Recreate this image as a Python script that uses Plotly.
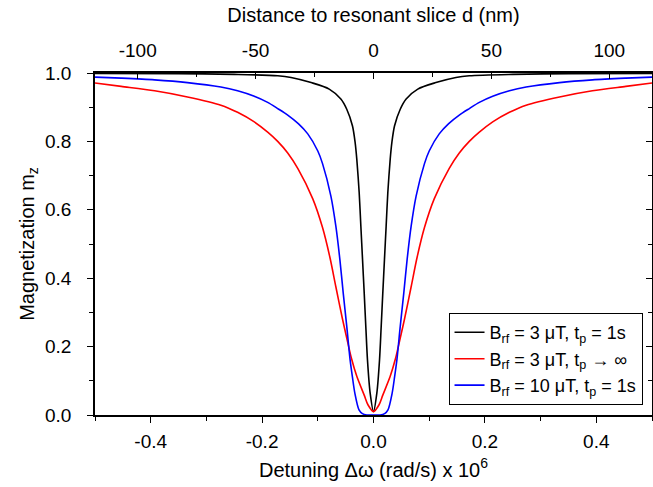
import plotly.graph_objects as go

# Detuning (x 10^6 rad/s) and magnetization values
x_black = [-0.5, -0.35, -0.25, -0.172, -0.148, -0.112, -0.0795, -0.0586, -0.048, -0.0377, -0.033, -0.030,
           -0.0257, -0.0227, -0.0197, -0.0167, -0.0138, -0.0108, -0.006, 0.0,
           0.006, 0.0108, 0.0138, 0.0167, 0.0197, 0.0227, 0.0257, 0.030, 0.033, 0.0377,
           0.048, 0.0586, 0.0795, 0.112, 0.148, 0.172, 0.25, 0.35, 0.5]
y_black = [0.999, 0.998, 0.996, 0.992, 0.987, 0.972, 0.953, 0.924, 0.894, 0.845, 0.797, 0.748,
           0.650, 0.552, 0.455, 0.357, 0.259, 0.161, 0.064, 0.01,
           0.064, 0.161, 0.259, 0.357, 0.455, 0.552, 0.650, 0.748, 0.797, 0.845,
           0.894, 0.924, 0.953, 0.972, 0.987, 0.992, 0.996, 0.998, 0.999]

x_red = [-0.5, -0.453, -0.393, -0.334, -0.274, -0.244, -0.214, -0.19, -0.172, -0.154, -0.136, -0.109,
         -0.0915, -0.0784, -0.0676, -0.0556, -0.048, -0.0395, -0.030, -0.0167, -0.01, 0.0,
         0.01, 0.0167, 0.030, 0.0395, 0.048, 0.0556, 0.0676, 0.0784, 0.0915, 0.109, 0.136,
         0.154, 0.172, 0.19, 0.214, 0.244, 0.274, 0.334, 0.393, 0.453, 0.5]
y_red = [0.971, 0.961, 0.948, 0.930, 0.906, 0.885, 0.857, 0.827, 0.800, 0.766, 0.721, 0.632,
         0.548, 0.462, 0.375, 0.280, 0.225, 0.165, 0.113, 0.058, 0.03, 0.01,
         0.03, 0.058, 0.113, 0.165, 0.225, 0.280, 0.375, 0.462, 0.548, 0.632, 0.721,
         0.766, 0.800, 0.827, 0.857, 0.885, 0.906, 0.930, 0.948, 0.961, 0.971]

x_blue = [-0.5, -0.453, -0.393, -0.334, -0.274, -0.244, -0.214, -0.19, -0.172, -0.154, -0.135, -0.118,
          -0.1, -0.0915, -0.0765, -0.0676, -0.0604, -0.0544, -0.048, -0.042, -0.038, -0.0335,
          -0.026, -0.02, -0.012, 0.0,
          0.012, 0.02, 0.026, 0.0335, 0.038, 0.042, 0.048, 0.0544, 0.0604, 0.0676, 0.0765,
          0.0915, 0.1, 0.118, 0.135, 0.154, 0.172, 0.19, 0.214, 0.244, 0.274, 0.334, 0.393, 0.453, 0.5]
y_blue = [0.988, 0.985, 0.980, 0.972, 0.959, 0.948, 0.932, 0.914, 0.896, 0.877, 0.852, 0.822,
          0.772, 0.735, 0.640, 0.552, 0.455, 0.357, 0.259, 0.161, 0.113, 0.064,
          0.015, 0.004, 0.0, 0.0,
          0.0, 0.004, 0.015, 0.064, 0.113, 0.161, 0.259, 0.357, 0.455, 0.552, 0.640,
          0.735, 0.772, 0.822, 0.852, 0.877, 0.896, 0.914, 0.932, 0.948, 0.959, 0.972, 0.980, 0.985, 0.988]

names = ["B<sub>rf</sub> = 3 μT, t<sub>p</sub> = 1s",
         "B<sub>rf</sub> = 3 μT, t<sub>p</sub> → ∞",
         "B<sub>rf</sub> = 10 μT, t<sub>p</sub> = 1s"]
colors = ["#000000", "#ff0000", "#0000ff"]

# tick labels (hyphen minus as in the reference)
x_tickvals = [-0.4, -0.2, 0.0, 0.2, 0.4]
x_ticktext = ["-0.4", "-0.2", "0.0", "0.2", "0.4"]
d_tickvals = [-100, -50, 0, 50, 100]
d_ticktext = ["-100", "-50", "0", "50", "100"]
y_tickvals = [0.0, 0.2, 0.4, 0.6, 0.8, 1.0]
y_ticktext = ["0.0", "0.2", "0.4", "0.6", "0.8", "1.0"]

x_range = [-0.5, 0.5]
d_range = [-118.1, 118.1]   # top axis in nm

FONT = "Liberation Sans, Arial, sans-serif"

fig = go.Figure()
for xs, ys, nm, c in [(x_black, y_black, names[0], colors[0]),
                      (x_red, y_red, names[1], colors[1]),
                      (x_blue, y_blue, names[2], colors[2])]:
    fig.add_trace(go.Scatter(x=xs, y=ys, mode="lines", name=nm,
                             line=dict(color=c, width=1.6, shape="spline", smoothing=0.8)))

# invisible trace to carry the top axis
fig.add_trace(go.Scatter(x=d_range, y=[0.5, 0.5], xaxis="x2", yaxis="y2", mode="lines",
                         line=dict(width=0), showlegend=False, hoverinfo="skip"))

axis_common = dict(showgrid=False, zeroline=False, showline=True, linecolor="black",
                   linewidth=1.5, tickcolor="black", tickwidth=1.2, automargin=False,
                   tickfont=dict(family=FONT, size=19, color="black"))

fig.update_layout(
    width=653, height=487,
    margin=dict(l=95, r=1, t=73, b=72),
    paper_bgcolor="white", plot_bgcolor="white",
    font=dict(family=FONT, size=19, color="black"),
    xaxis=dict(range=x_range, tickmode="array", tickvals=x_tickvals, ticktext=x_ticktext,
               ticks="outside", ticklen=6, ticklabelstandoff=2,
               minor=dict(dtick=0.1, tick0=0, ticks="outside", ticklen=4, tickcolor="black", tickwidth=1.2),
               title=dict(text="Detuning Δω (rad/s) x 10<sup>6</sup>",
                          font=dict(family=FONT, size=20), standoff=12),
               **axis_common),
    xaxis2=dict(range=d_range, overlaying="x", side="top", anchor="y",
                tickmode="array", tickvals=d_tickvals, ticktext=d_ticktext,
                ticks="inside", ticklen=6, ticklabelstandoff=7,
                minor=dict(dtick=25, tick0=0, ticks="inside", ticklen=4, tickcolor="black", tickwidth=1.2),
                title=dict(text="Distance to resonant slice d (nm)",
                           font=dict(family=FONT, size=20), standoff=12),
                **axis_common),
    yaxis=dict(range=[0, 1], tickmode="array", tickvals=y_tickvals, ticktext=y_ticktext,
               ticks="outside", ticklen=6, ticklabelstandoff=12,
               minor=dict(dtick=0.1, tick0=0, ticks="outside", ticklen=4, tickcolor="black", tickwidth=1.2),
               title=dict(text="Magnetization m<sub>z</sub>",
                          font=dict(family=FONT, size=20), standoff=5),
               **axis_common),
    yaxis2=dict(range=[0, 1], overlaying="y", side="right", anchor="x",
                tickmode="array", tickvals=y_tickvals,
                ticks="inside", ticklen=6, showticklabels=False,
                minor=dict(dtick=0.1, tick0=0, ticks="inside", ticklen=4, tickcolor="black", tickwidth=1.2),
                **axis_common),
    legend=dict(x=0.983, y=0.029, xanchor="right", yanchor="bottom",
                bgcolor="white", bordercolor="black", borderwidth=1,
                font=dict(family=FONT, size=18, color="black"),
                tracegroupgap=0),
    showlegend=True,
)

# remove the default page margin so the figure fills the window exactly
fig.write_html("out.html", config={"displayModeBar": False},
               post_script="document.body.style.margin='0';document.body.style.overflow='hidden';")
